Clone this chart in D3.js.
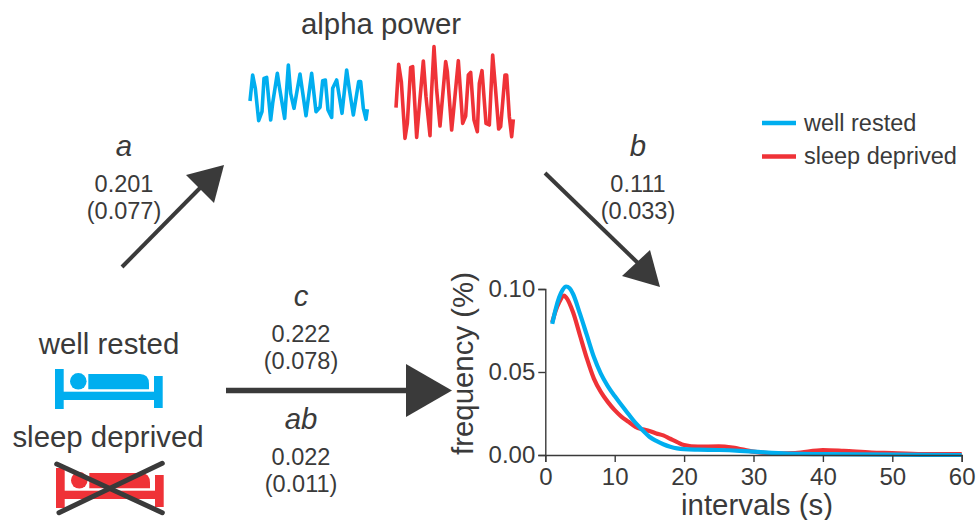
<!DOCTYPE html>
<html>
<head>
<meta charset="utf-8">
<script src="https://cdn.jsdelivr.net/npm/d3@7"></script>
<style>
  html, body { margin: 0; padding: 0; background: #fff; }
  text { font-family: "Liberation Sans", Arial, sans-serif; fill: #3a3a3a; }
  .axis text { font-family: "Liberation Sans", Arial, sans-serif; fill: #3a3a3a; }
</style>
</head>
<body>
<div id="chart"></div>
<script>
// frequency curves, x in seconds, y in %
var blueX = [1, 1.5, 2, 2.5, 3, 3.5, 4, 5, 6, 7, 8, 9, 10, 11, 12, 13, 14, 15, 16, 17, 18, 19, 20, 22, 25, 28, 30, 35, 40, 50, 60];
var blueY = [0.079, 0.088, 0.095, 0.0995, 0.1015, 0.1005, 0.097, 0.085, 0.072, 0.059, 0.049, 0.0415, 0.0355, 0.03, 0.0245, 0.0193, 0.015, 0.011, 0.0085, 0.0065, 0.005, 0.004, 0.0035, 0.0032, 0.003, 0.0025, 0.002, 0.0008, 0.0005, 0.0002, 0];
var redX = [1, 1.5, 2, 2.7, 3, 4, 5, 6, 7, 8, 9, 10, 11, 12, 13, 14, 15, 16, 17, 18, 19, 20, 22, 25, 27, 30, 33, 36, 40, 43, 47, 50, 55, 60];
var redY = [0.08, 0.087, 0.092, 0.096, 0.095, 0.086, 0.072, 0.058, 0.046, 0.038, 0.032, 0.027, 0.023, 0.02, 0.017, 0.0155, 0.0145, 0.013, 0.0118, 0.0098, 0.0078, 0.006, 0.005, 0.0052, 0.0045, 0.002, 0.001, 0.0012, 0.003, 0.0025, 0.0015, 0.0012, 0.0005, 0.0005];
var xTicks = [0, 10, 20, 30, 40, 50, 60];
var yTicks = [0, 0.05, 0.10];

// alpha traces, sample position and amplitude (arbitrary units)
var alphaBlueT = [30, 38, 46, 56, 66, 72, 80, 92, 98, 112, 118, 134, 145, 152, 162, 180, 198, 215, 228, 240, 248, 256, 264, 275, 278, 290, 306, 320, 328, 340, 356, 362, 370, 378, 382];
var alphaBlueA = [87, 165, 125, 28, 55, 155, 158, 30, 80, 170, 130, 35, 195, 110, 65, 168, 43, 170, 55, 68, 148, 150, 60, 38, 125, 150, 50, 180, 122, 45, 145, 145, 65, 32, 62];
var alphaRedT = [468, 476, 484, 495, 502, 512, 518, 530, 537, 550, 558, 570, 574, 582, 590, 600, 617, 622, 635, 640, 655, 668, 677, 685, 692, 702, 712, 718, 726, 738, 748, 758, 766, 776, 782, 795, 800, 808, 815, 820];
var alphaRedA = [67, 197, 145, -25, 20, 188, 190, -22, 60, 207, 100, -17, 100, 250, 120, 12, 205, 175, 0, 50, 208, 20, 42, 165, 173, 30, -5, 140, 178, 20, 15, 225, 130, 3, 10, 165, 165, 40, -20, 32];

// text labels
var pathLabels = [
  {name: "a", est: "0.201", se: "(0.077)", x: 124, y: 156},
  {name: "b", est: "0.111", se: "(0.033)", x: 638, y: 156},
  {name: "c", est: "0.222", se: "(0.078)", x: 301, y: 306},
  {name: "ab", est: "0.022", se: "(0.011)", x: 301, y: 429}
];
var legendNames = ["well rested", "sleep deprived"];

var BLUE = "#00aeef", RED = "#ef3237", DARK = "#3a3a3a";

var svg = d3.select("#chart").append("svg")
    .attr("width", 978)
    .attr("height", 520)
    .style("display", "block");

// title
svg.append("text")
    .attr("x", 381).attr("y", 34)
    .attr("text-anchor", "middle")
    .style("font-size", "29.4px")
    .text("alpha power");

// alpha traces
var tScale = d3.scaleLinear().domain([0, 900]).range([240, 540]);
var aScale = d3.scaleLinear().domain([0, 300]).range([130, 30]);
var traceLine = d3.line()
    .x(function(d) { return tScale(d[0]); })
    .y(function(d) { return aScale(d[1]); })
    .curve(d3.curveLinear);

svg.append("path")
    .attr("d", traceLine(d3.zip(alphaBlueT, alphaBlueA)))
    .attr("fill", "none").attr("stroke", BLUE).attr("stroke-width", 3.6)
    .attr("stroke-linejoin", "round");
svg.append("path")
    .attr("d", traceLine(d3.zip(alphaRedT, alphaRedA)))
    .attr("fill", "none").attr("stroke", RED).attr("stroke-width", 3.6)
    .attr("stroke-linejoin", "round");

// path labels
pathLabels.forEach(function(d) {
  svg.append("text").attr("x", d.x).attr("y", d.y)
      .attr("text-anchor", "middle")
      .style("font-size", "29.4px").style("font-style", "italic")
      .text(d.name);
  svg.append("text").attr("x", d.x).attr("y", d.y + 36)
      .attr("text-anchor", "middle")
      .style("font-size", "23.5px")
      .text(d.est);
  svg.append("text").attr("x", d.x).attr("y", d.y + 63)
      .attr("text-anchor", "middle")
      .style("font-size", "23.5px")
      .text(d.se);
});

// arrows
function arrow(x1, y1, x2, y2, w, head) {
  svg.append("line")
      .attr("x1", x1).attr("y1", y1).attr("x2", x2).attr("y2", y2)
      .attr("stroke", DARK).attr("stroke-width", w);
  svg.append("polygon")
      .attr("points", head.join(" "))
      .attr("fill", DARK);
}
arrow(122, 267, 200, 188, 4, ["186,175", "224,165", "214,203"]);
arrow(545, 173, 640, 265, 4, ["650,250", "660,287", "622,276"]);
arrow(226, 390.5, 406, 390.5, 5.5, ["406,364", "406,417", "452,390.5"]);

// legend
legendNames.forEach(function(name, i) {
  var ly = i == 0 ? 123 : 156.5;
  svg.append("line")
      .attr("x1", 762).attr("x2", 796).attr("y1", ly).attr("y2", ly)
      .attr("stroke", i == 0 ? BLUE : RED).attr("stroke-width", 4.5);
  svg.append("text")
      .attr("x", 804).attr("y", ly + 7.5)
      .style("font-size", "23.5px")
      .text(name);
});

// beds
function bed(dx, dy, col) {
  var g = svg.append("g")
      .attr("transform", "translate(" + dx + "," + dy + ")")
      .attr("fill", col);
  g.append("rect").attr("x", 55).attr("y", 369).attr("width", 8.7).attr("height", 40);
  g.append("rect").attr("x", 154).attr("y", 376).attr("width", 8.7).attr("height", 32);
  g.append("rect").attr("x", 63).attr("y", 391.7).attr("width", 92).attr("height", 8.3);
  g.append("circle").attr("cx", 78.3).attr("cy", 381.3).attr("r", 8.3);
  g.append("path").attr("d", "M88.3 374H140Q149 374 149 384V389.3H88.3Z");
}
svg.append("text").attr("x", 109).attr("y", 354)
    .attr("text-anchor", "middle").style("font-size", "29.4px").text("well rested");
bed(0, 0, BLUE);
svg.append("text").attr("x", 108).attr("y", 447)
    .attr("text-anchor", "middle").style("font-size", "29.4px").text("sleep deprived");
bed(1, 99, RED);
[[56.7, 464, 162.3, 512.7], [59, 512.7, 162.3, 463.3]].forEach(function(l) {
  svg.append("line")
      .attr("x1", l[0]).attr("y1", l[1]).attr("x2", l[2]).attr("y2", l[3])
      .attr("stroke", DARK).attr("stroke-width", 5).attr("stroke-linecap", "round");
});

// frequency plot
var x = d3.scaleLinear().domain([0, 60]).range([545.3, 961.7]);
var y = d3.scaleLinear().domain([0, 0.10]).range([455, 289]);
var curve = d3.line()
    .x(function(d) { return x(d[0]); })
    .y(function(d) { return y(d[1]); })
    .curve(d3.curveMonotoneX);

svg.append("path")
    .attr("d", curve(d3.zip(redX, redY)))
    .attr("fill", "none").attr("stroke", RED).attr("stroke-width", 4.2);
svg.append("path")
    .attr("d", curve(d3.zip(blueX, blueY)))
    .attr("fill", "none").attr("stroke", BLUE).attr("stroke-width", 4.2);

var xAxis = d3.axisBottom(x).tickValues(xTicks).tickSize(7).tickPadding(6).tickFormat(d3.format("d"));
var yAxis = d3.axisLeft(y).tickValues(yTicks).tickSize(7).tickPadding(3).tickFormat(d3.format(".2f"));

var gx = svg.append("g").attr("class", "axis")
    .attr("transform", "translate(0,455)").call(xAxis);
var gy = svg.append("g").attr("class", "axis")
    .attr("transform", "translate(545.3,0)").call(yAxis);
[gx, gy].forEach(function(g) {
  g.selectAll("text").style("font-size", "24px");
  g.selectAll("line,path").attr("stroke", DARK).attr("stroke-width", 1.4);
});

svg.append("text")
    .attr("x", 757).attr("y", 515)
    .attr("text-anchor", "middle")
    .style("font-size", "29.4px")
    .text("intervals (s)");
svg.append("text")
    .attr("transform", "translate(473,363.5) rotate(-90)")
    .attr("text-anchor", "middle")
    .style("font-size", "29.4px")
    .text("frequency (%)");
</script>
</body>
</html>
